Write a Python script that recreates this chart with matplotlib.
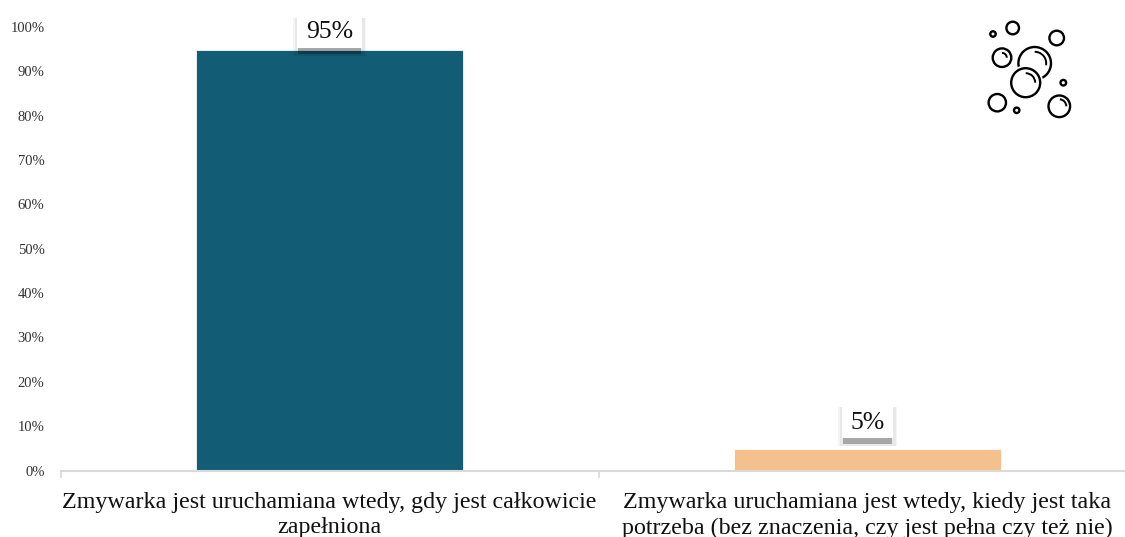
import matplotlib
matplotlib.use("Agg")
import matplotlib.pyplot as plt
from matplotlib.patches import Rectangle, Circle, Arc

plt.rcParams['font.family'] = ['Liberation Serif', 'DejaVu Serif']

categories = ["Zmywarka jest uruchamiana wtedy, gdy jest całkowicie\nzapełniona",
              "Zmywarka uruchamiana jest wtedy, kiedy jest taka\npotrzeba (bez znaczenia, czy jest pełna czy też nie)"]
values = [95, 5]
value_labels = ["95%", "5%"]
bar_colors = ["#125D75", "#F4C08D"]
yticks = [0, 10, 20, 30, 40, 50, 60, 70, 80, 90, 100]

# bubble icon, in image pixels: x, y, r
bubbles = [(993, 34, 2.7), (1012.7, 28, 6.3), (1056.7, 38, 7.3), (1002, 57.7, 9.3),
           (1025.7, 82.7, 14.5), (1063.3, 82.7, 2.8), (997.3, 102.7, 8.7),
           (1016.7, 110.3, 2.7), (1059.3, 106.3, 10.8)]
# highlights: x, y, r, start angle, end angle
highlights = [(1002, 57.7, 4.8, 270, 360), (1034.7, 63.3, 11.5, 270, 10),
              (1025.7, 82.7, 9.5, 270, 360), (1059.3, 106.3, 7, 275, 360)]

W, H = 1125, 537
fig = plt.figure(figsize=(W / 100, H / 100), dpi=100)
ax = fig.add_axes([60.5 / W, 1 - 470.5 / H, (1136.5 - 60.5) / W, (470.5 - 27) / H])

x = [0, 1]
ax.bar(x, values, width=0.5, color=bar_colors, edgecolor="white", linewidth=2, zorder=2)
ax.set_xlim(-0.5, 1.5)
ax.set_ylim(0, 100)
ax.set_yticks(yticks)
ax.set_yticklabels([str(t) + "%" for t in yticks], fontsize=10.5, color="#333333")
ax.tick_params(axis="y", length=0, pad=11.5)
ax.set_xticks([-0.5, 0.5, 1.5])
ax.set_xticklabels([])
ax.tick_params(axis="x", length=5, width=1.2, color="#D9D9D9")
for s in ["top", "right", "left"]:
    ax.spines[s].set_visible(False)
ax.spines["bottom"].set_color("#D9D9D9")
ax.spines["bottom"].set_linewidth(1.5)

for i, c in enumerate(categories):
    ax.annotate(c, xy=(x[i], 0), xycoords="data", xytext=(0, -21.5), textcoords="offset pixels",
                ha="center", va="top", fontsize=17.3, color="#111111", linespacing=1.28,
                annotation_clip=False)

# overlay in image pixels for the label boxes and the icon
over = fig.add_axes([0, 0, 1, 1], facecolor="none")
over.set_xlim(0, W)
over.set_ylim(H, 0)
over.axis("off")

box_w = [65, 51]
box_h = [33, 34]
gap = [1, 10]
text_dy = [0, 1.5]
for i, v in enumerate(values):
    px, py = ax.transData.transform((x[i], v))
    py = H - py
    left = px - box_w[i] / 2
    top = py - gap[i] - box_h[i]
    bottom = top + box_h[i]
    # soft shadow, sides and below only
    for grow, a in [(4, 0.04), (2.5, 0.05)]:
        over.add_patch(Rectangle((left - grow, top + 3), box_w[i] + 2 * grow, box_h[i] + 5,
                                 fc="black", ec="none", alpha=a, zorder=3))
    over.add_patch(Rectangle((left + 1, bottom), box_w[i] - 2, 6, fc="black", ec="none", alpha=0.28, zorder=3))
    over.add_patch(Rectangle((left, top), box_w[i], box_h[i], fc="white", ec="none", zorder=4))
    over.text(px, top + box_h[i] / 2 + text_dy[i], value_labels[i], ha="center", va="center",
              fontsize=18.5, color="#111111", zorder=5)

# back bubble first, the white disc hides it where the front bubble overlaps
over.add_patch(Circle((1034.7, 63.3), 16.3, fc="none", ec="black", lw=1.7))
over.add_patch(Circle((1025.7, 82.7), 17.5, fc="white", ec="none"))
for bx, by, r in bubbles:
    over.add_patch(Circle((bx, by), r, fc="none", ec="black", lw=1.7))
for bx, by, r, a1, a2 in highlights:
    over.add_patch(Arc((bx, by), 2 * r, 2 * r, theta1=a1, theta2=a2, ec="black", lw=1.4))

fig.savefig("out.png", dpi=100, facecolor="white")
